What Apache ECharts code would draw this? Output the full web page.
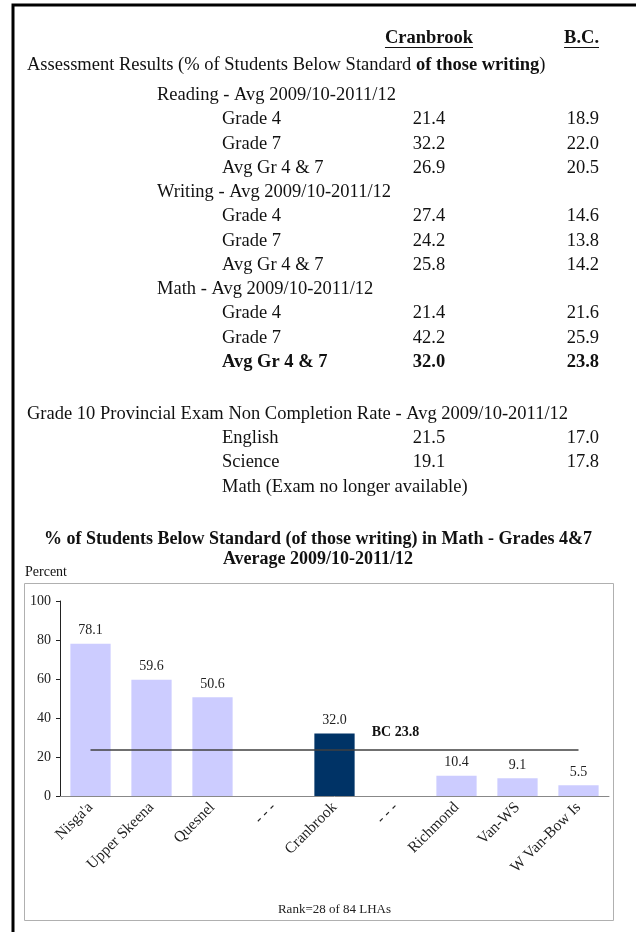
<!DOCTYPE html>
<html>
<head>
<meta charset="utf-8">
<script src="https://cdn.jsdelivr.net/npm/echarts@6/dist/echarts.min.js"></script>
<style>
html,body{margin:0;padding:0;background:#fff;}
#chart{width:636px;height:932px;}
</style>
</head>
<body>
<div id="chart"></div>
<script>
// ---------- Data ----------
const headerColumns = ["Cranbrook", "B.C."];
const sectionTitles = ["Reading - Avg 2009/10-2011/12", "Writing - Avg 2009/10-2011/12", "Math - Avg 2009/10-2011/12"];
const gradeLabels = ["Grade 4", "Grade 7", "Avg Gr 4 & 7"];
const readingCranbrook = [21.4, 32.2, 26.9];
const readingBC = [18.9, 22.0, 20.5];
const writingCranbrook = [27.4, 24.2, 25.8];
const writingBC = [14.6, 13.8, 14.2];
const mathCranbrook = [21.4, 42.2, 32.0];
const mathBC = [21.6, 25.9, 23.8];
const examTitle = "Grade 10 Provincial Exam Non Completion Rate - Avg 2009/10-2011/12";
const examLabels = ["English", "Science"];
const examCranbrook = [21.5, 19.1];
const examBC = [17.0, 17.8];
const examNote = "Math (Exam no longer available)";

const chartTitle = "% of Students Below Standard (of those writing) in Math - Grades 4&7\nAverage 2009/10-2011/12";
const categories = ["Nisga'a", "Upper Skeena", "Quesnel", "- - -", "Cranbrook", "- - -", "Richmond", "Van-WS", "W Van-Bow Is"];
const mathBelowStandard = [78.1, 59.6, 50.6, null, 32.0, null, 10.4, 9.1, 5.5];
const bcAverage = 23.8;
const bcLabelCategoryIndex = 5;
const highlightArea = "Cranbrook";
const yTicks = [0, 20, 40, 60, 80, 100];
const rankNote = "Rank=28 of 84 LHAs";

// ---------- Layout ----------
const SERIF = "'Liberation Serif', 'Times New Roman', serif";
const TFS = 18.5;
const X_LEFT = 27, X_SECTION = 157, X_ROW = 222, X_CRAN = 429, X_BC = 599;

const measureCtx = document.createElement('canvas').getContext('2d');
function textWidth(t, size, weight) {
  measureCtx.font = (weight || 'normal') + ' ' + size + 'px ' + SERIF;
  return measureCtx.measureText(t).width;
}

const graphics = [];
function txt(t, x, y, opts) {
  opts = opts || {};
  graphics.push({
    type: 'text', z: 10,
    style: {
      text: t, x: x, y: y,
      fontSize: opts.size || TFS, fontFamily: SERIF,
      fontWeight: opts.weight || 'normal',
      fill: opts.fill || '#111',
      align: opts.align || 'left', verticalAlign: 'middle'
    }
  });
}

// outer frame
graphics.push({ type: 'rect', z: 1, shape: { x: 13, y: 5, width: 700, height: 1000 }, style: { fill: 'none', stroke: '#000', lineWidth: 3 } });
// chart frame
graphics.push({ type: 'rect', z: 1, shape: { x: 24.5, y: 583.5, width: 589, height: 337 }, style: { fill: 'none', stroke: '#b0b0b0', lineWidth: 1 } });

// header
const headerY = 38;
txt(headerColumns[0], X_CRAN, headerY, { weight: 'bold', align: 'center' });
txt(headerColumns[1], X_BC, headerY, { weight: 'bold', align: 'right' });
(function () {
  const w0 = textWidth(headerColumns[0], TFS, 'bold');
  const w1 = textWidth(headerColumns[1], TFS, 'bold');
  graphics.push({ type: 'line', z: 10, shape: { x1: X_CRAN - w0 / 2, y1: headerY + 9.5, x2: X_CRAN + w0 / 2, y2: headerY + 9.5 }, style: { stroke: '#111', lineWidth: 1.2 } });
  graphics.push({ type: 'line', z: 10, shape: { x1: X_BC - w1, y1: headerY + 9.5, x2: X_BC, y2: headerY + 9.5 }, style: { stroke: '#111', lineWidth: 1.2 } });
})();

// assessment heading (mixed weight)
graphics.push({
  type: 'text', z: 10,
  style: {
    text: '{n|Assessment Results (% of Students Below Standard }{b|of those writing}{n|)}',
    x: X_LEFT, y: 65, verticalAlign: 'middle',
    rich: {
      n: { fontSize: TFS, fontFamily: SERIF, fill: '#111' },
      b: { fontSize: TFS, fontFamily: SERIF, fontWeight: 'bold', fill: '#111' }
    }
  }
});

const groups = [
  { title: sectionTitles[0], cran: readingCranbrook, bc: readingBC, y: 95 },
  { title: sectionTitles[1], cran: writingCranbrook, bc: writingBC, y: 192 },
  { title: sectionTitles[2], cran: mathCranbrook, bc: mathBC, y: 289 }
];
groups.forEach(function (g, gi) {
  txt(g.title, X_SECTION, g.y);
  gradeLabels.forEach(function (lab, i) {
    const y = g.y + 24.5 * (i + 1);
    const bold = (gi === 2 && i === 2) ? 'bold' : 'normal';
    txt(lab, X_ROW, y, { weight: bold });
    txt(g.cran[i].toFixed(1), X_CRAN, y, { weight: bold, align: 'center' });
    txt(g.bc[i].toFixed(1), X_BC, y, { weight: bold, align: 'right' });
  });
});

txt(examTitle, X_LEFT, 414);
examLabels.forEach(function (lab, i) {
  const y = 438 + 24 * i;
  txt(lab, X_ROW, y);
  txt(examCranbrook[i].toFixed(1), X_CRAN, y, { align: 'center' });
  txt(examBC[i].toFixed(1), X_BC, y, { align: 'right' });
});
txt(examNote, X_ROW, 487);

txt('Percent', 25, 572, { size: 14 });

// ---------- Chart ----------
const LIGHT = '#ccccff', DARK = '#003366';
const chart = echarts.init(document.getElementById('chart'), null, { renderer: 'canvas' });
chart.setOption({
  animation: false,
  backgroundColor: '#fff',
  textStyle: { fontFamily: SERIF },
  title: {
    text: chartTitle,
    left: 'center', top: 524,
    textStyle: { fontFamily: SERIF, fontSize: 18, fontWeight: 'bold', color: '#111', lineHeight: 20 }
  },
  grid: { left: 60, right: 27, top: 601, bottom: 136, containLabel: false },
  xAxis: {
    type: 'category',
    data: categories,
    axisLine: { lineStyle: { color: '#888', width: 1 } },
    axisTick: { show: false },
    axisLabel: { interval: 0, rotate: 45, fontSize: 15.5, color: '#222', margin: 9, fontFamily: SERIF },
    name: rankNote,
    nameLocation: 'middle',
    nameGap: 107,
    nameTextStyle: { fontSize: 13, color: '#222', fontFamily: SERIF }
  },
  yAxis: {
    type: 'value',
    min: yTicks[0], max: yTicks[yTicks.length - 1], interval: yTicks[1] - yTicks[0],
    axisLine: { show: true, lineStyle: { color: '#222', width: 1 } },
    axisTick: { show: true, inside: false, length: 4, lineStyle: { color: '#222' } },
    splitLine: { show: false },
    axisLabel: { fontSize: 14, color: '#222', margin: 9, fontFamily: SERIF }
  },
  series: [{
    type: 'bar',
    data: mathBelowStandard,
    barWidth: '66%',
    itemStyle: {
      color: function (p) { return p.name === highlightArea ? DARK : LIGHT; }
    },
    label: {
      show: true, position: 'top', distance: 6,
      fontSize: 14, color: '#222', fontFamily: SERIF,
      formatter: function (p) { return p.value == null ? '' : Number(p.value).toFixed(1); }
    },
    markLine: {
      silent: true, symbol: 'none',
      lineStyle: { color: '#404040', width: 1.5, type: 'solid' },
      label: { show: false },
      data: [[{ coord: [0, bcAverage] }, { coord: [categories.length - 1, bcAverage] }]]
    },
    markPoint: {
      silent: true,
      symbol: 'circle', symbolSize: 0,
      label: {
        show: true, position: 'top', distance: 10,
        fontSize: 14, fontWeight: 'bold', color: '#111', fontFamily: SERIF,
        formatter: 'BC ' + bcAverage.toFixed(1)
      },
      data: [{ coord: [bcLabelCategoryIndex, bcAverage] }]
    }
  }],
  graphic: graphics
});
</script>
</body>
</html>
